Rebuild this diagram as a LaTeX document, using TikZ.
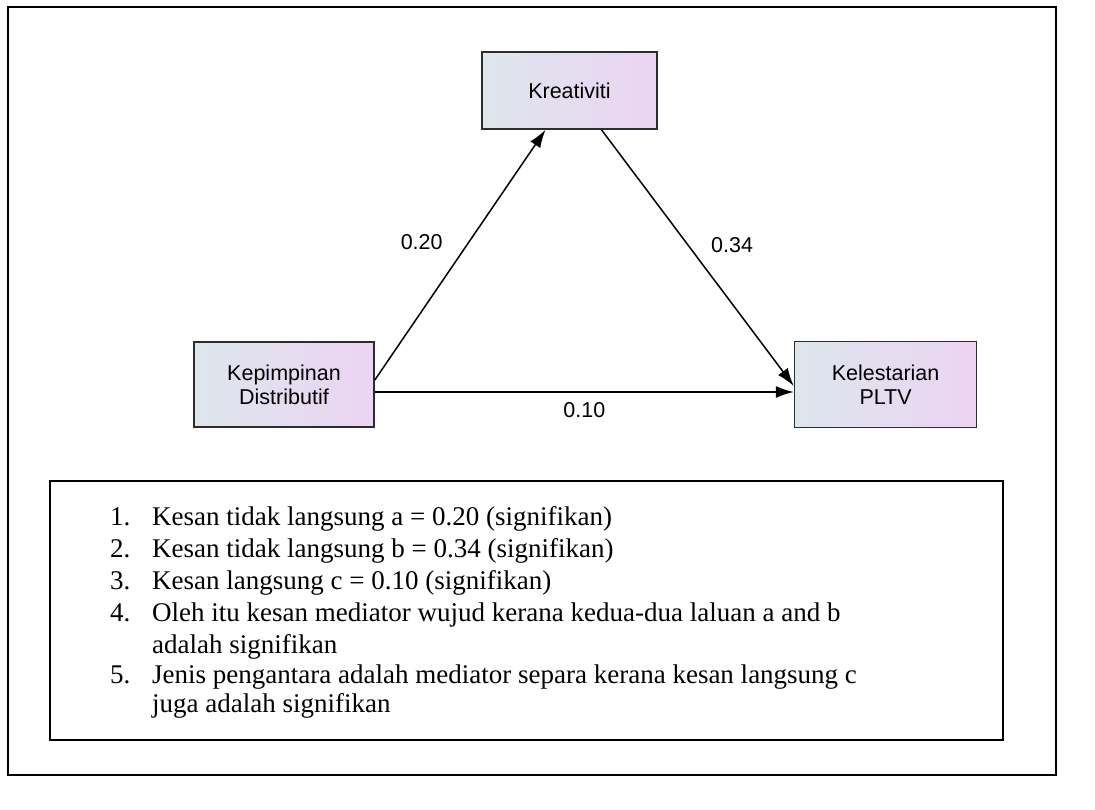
\documentclass[tikz,border=0pt]{standalone}
\usepackage{fontspec}
\setmainfont{Liberation Serif}
\newfontfamily\arialfont{Liberation Sans}
\usetikzlibrary{positioning, arrows.meta}

\definecolor{boxleft}{RGB}{221,230,236}
\definecolor{boxright}{RGB}{236,212,242}
\definecolor{boxline}{RGB}{45,45,45}

\begin{document}
\begin{tikzpicture}[x=1pt, y=-1pt,
  varbox/.style={draw=boxline, line width=1.6pt, rectangle, left color=boxleft, right color=boxright, align=center, inner sep=0pt, font=\arialfont\fontsize{21.5}{24}\selectfont},
  coef/.style={font=\arialfont\fontsize{21.5}{24}\selectfont},
  effect/.style={-{Latex[length=18pt,width=12pt]}, line width=1.5pt},
  legendline/.style={anchor=base west, inner sep=0pt, font=\fontsize{27}{30}\selectfont}]

  \useasboundingbox (0,0) rectangle (1095,810);

  % Frame
  \draw[line width=2pt] (8,7) rectangle (1056,775);

  % Nodes
  \node[varbox, minimum width=180pt, minimum height=85pt] (kepimpinan) at (284,384.5) {Kepimpinan\\Distributif};
  \node[varbox, minimum width=182pt, minimum height=86pt, right=419pt of kepimpinan] (kelestarian) {Kelestarian\\PLTV};
  \node[varbox, minimum width=175pt, minimum height=77pt] (kreativiti) at (569.5,90.5) {Kreativiti};

  % Arrows
  \draw[effect] ([yshift=4.5pt]kepimpinan.east) -- ([xshift=-24pt]kreativiti.south) node[coef, pos=0.55, left=22pt] (a) {0.20};
  \draw[effect] ([xshift=32pt]kreativiti.south) -- ([yshift=-1.5pt]kelestarian.west) node[coef, pos=0.45, right=19pt] (b) {0.34};
  \draw[effect] ([yshift=-7.5pt]kepimpinan.east) -- ([yshift=-7.5pt]kelestarian.west) node[coef, midway, below=6pt] (c) {0.10};

  % Legend
  \node[draw, line width=2pt, minimum width=953pt, minimum height=259pt, inner sep=0pt] (legend) at (526.5,610.5) {};
  \foreach \y/\num/\txt in {525/1./Kesan tidak langsung a = 0.20 (signifikan),
                            557/2./Kesan tidak langsung b = 0.34 (signifikan),
                            589/3./Kesan langsung c = 0.10 (signifikan),
                            621/4./Oleh itu kesan mediator wujud kerana kedua-dua laluan a and b,
                            653//adalah signifikan,
                            683/5./Jenis pengantara adalah mediator separa kerana kesan langsung c,
                            712//juga adalah signifikan} {
    \node[legendline] at (110,\y) {\num};
    \node[legendline] at (152,\y) {\txt};
  }

\end{tikzpicture}
\end{document}
